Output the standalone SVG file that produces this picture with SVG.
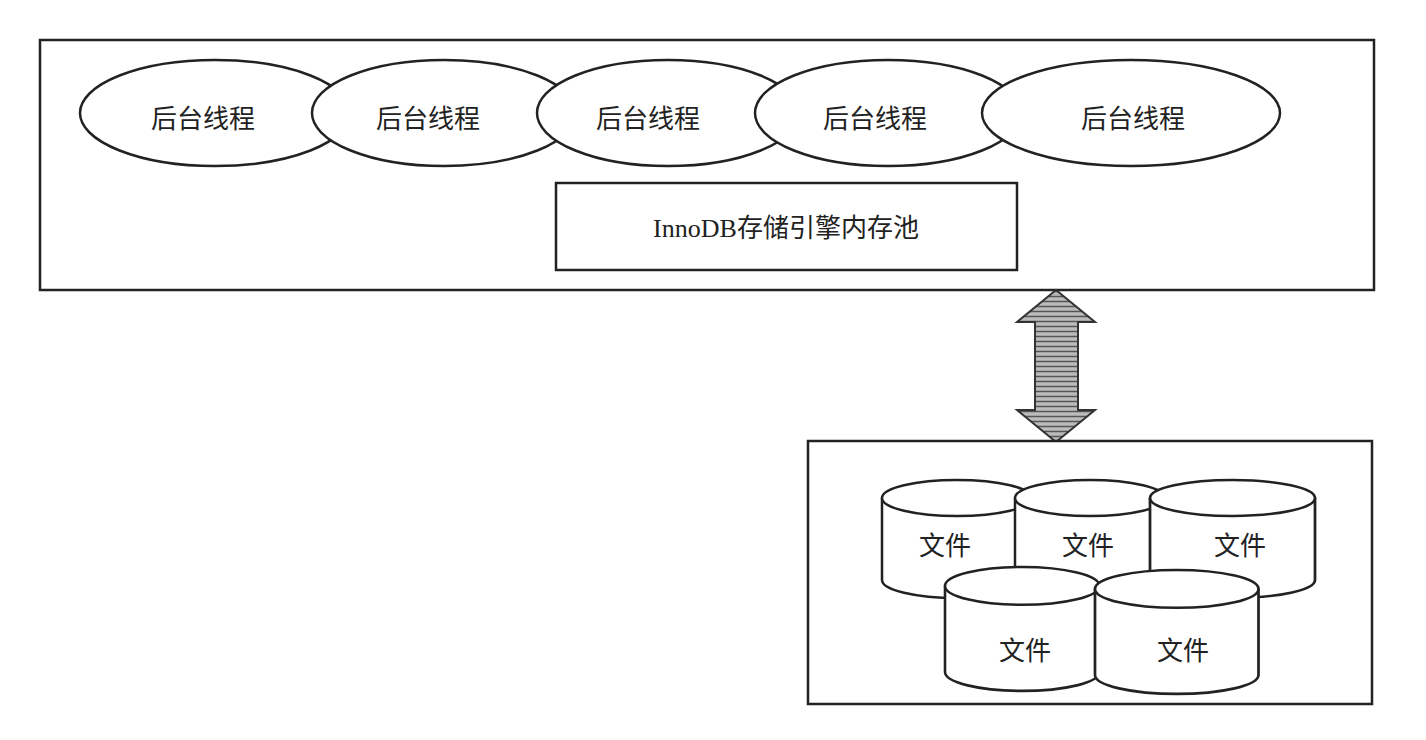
<svg xmlns="http://www.w3.org/2000/svg" width="1426" height="740" viewBox="0 0 1426 740">
<defs>
<style>
.s{fill:#fff;stroke:#222;stroke-width:2.5}
.t{font-family:"Noto Sans CJK SC","Noto Sans",sans-serif;font-size:26px;fill:#222;text-anchor:middle;dominant-baseline:central}
</style>
<pattern id="hatch" width="6" height="5" patternUnits="userSpaceOnUse">
<rect width="6" height="5" fill="#bbb"/><line x1="0" y1="1.5" x2="6" y2="1.5" stroke="#555" stroke-width="1.5"/>
</pattern>
<g id="cyl">
<path class="s" d="M0,18 V100 A75,18 0 0 0 150,100 V18"/>
<ellipse class="s" cx="75" cy="18" rx="75" ry="18"/>
</g>
</defs>
<rect width="1426" height="740" fill="#fff"/>
<g id="engine">
<rect class="s" x="40" y="40" width="1334" height="250"/>
<g id="t1"><ellipse class="s" cx="215" cy="113" rx="135" ry="53"/><text class="t" x="203" y="116">后台线程</text></g>
<g id="t2"><ellipse class="s" cx="444" cy="113" rx="132" ry="53"/><text class="t" x="428" y="116">后台线程</text></g>
<g id="t3"><ellipse class="s" cx="668" cy="113" rx="131" ry="53"/><text class="t" x="648" y="116">后台线程</text></g>
<g id="t4"><ellipse class="s" cx="888" cy="113" rx="133" ry="53"/><text class="t" x="875" y="116">后台线程</text></g>
<g id="t5"><ellipse class="s" cx="1131" cy="113" rx="149" ry="53"/><text class="t" x="1133" y="116">后台线程</text></g>
<g id="pool"><rect class="s" x="556" y="183" width="461" height="87"/><text class="t" x="786" y="228" style="font-family:'Liberation Serif','Noto Sans CJK SC',serif">InnoDB存储引擎内存池</text></g>
</g>
<g id="connectors">
<path d="M1056,290 L1095,322 L1078,322 L1078,410 L1095,410 L1056,442 L1017,410 L1035,410 L1035,322 L1017,322 Z" fill="url(#hatch)" stroke="#333" stroke-width="2"/>
</g>
<g id="files">
<rect class="s" x="808" y="441" width="564" height="263"/>
<g id="f1"><use href="#cyl" transform="translate(882,480)"/><text class="t" x="945" y="543">文件</text></g>
<g id="f2"><use href="#cyl" transform="translate(1015,480)"/><text class="t" x="1088" y="543">文件</text></g>
<g id="f3"><use href="#cyl" transform="translate(1150,480) scale(1.1,1)"/><text class="t" x="1240" y="543">文件</text></g>
<g id="f4"><use href="#cyl" transform="translate(945,567) scale(1.03,1.05)"/><text class="t" x="1025" y="648">文件</text></g>
<g id="f5"><use href="#cyl" transform="translate(1095,570) scale(1.09,1.05)"/><text class="t" x="1183" y="648">文件</text></g>
</g>
</svg>
